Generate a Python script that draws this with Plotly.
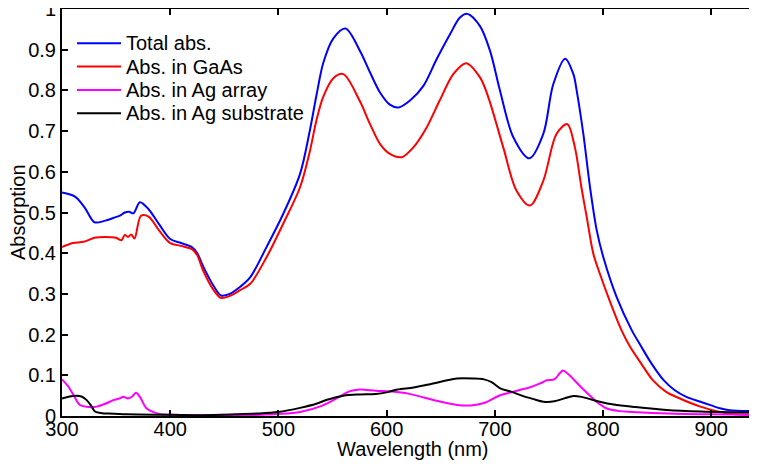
import plotly.graph_objects as go

# ---- data ----
wl_total = [300, 312, 321, 330, 340, 349, 354, 358, 362, 366, 372, 380, 390, 400, 410, 420, 425,
            430, 440, 447, 455, 465, 474, 489, 504.5, 520, 529, 535.4, 541.5, 550.8, 562, 575.4,
            584.7, 593.9, 603, 611, 621.6, 634, 646.3, 658.6, 667.8, 674.6, 686.3, 695.6, 704.8,
            717.1, 732, 744.8, 754, 765, 772.6, 775.7, 781.8, 788, 794.2, 800.3, 812.6, 826.5,
            835, 845, 856, 866, 877, 890, 900, 908, 917, 942]
abs_total = [0.549, 0.539, 0.512, 0.476, 0.480, 0.488, 0.493, 0.500, 0.502, 0.498, 0.525, 0.508,
             0.470, 0.435, 0.425, 0.415, 0.400, 0.370, 0.320, 0.296, 0.300, 0.318, 0.341, 0.415,
             0.497, 0.595, 0.701, 0.791, 0.868, 0.928, 0.952, 0.897, 0.844, 0.795, 0.765, 0.758,
             0.775, 0.811, 0.877, 0.938, 0.979, 0.988, 0.958, 0.897, 0.799, 0.685, 0.633, 0.693,
             0.815, 0.878, 0.840, 0.799, 0.693, 0.562, 0.456, 0.390, 0.292, 0.211, 0.172, 0.128,
             0.088, 0.064, 0.047, 0.035, 0.026, 0.019, 0.014, 0.012]

wl_gaas = [300, 310, 320, 330, 340, 350, 355, 358, 361, 364, 367, 373, 380, 390, 400, 410, 420,
           425, 430, 440, 447, 455, 465, 474, 489, 504.5, 520, 529, 535, 541.5, 550.8, 560, 575,
           584.7, 594, 603, 614, 624.7, 637, 649, 661.6, 673.4, 686.3, 694, 707.8, 720, 732.5,
           744.8, 757, 767, 774, 780, 785, 791, 797, 806, 817, 825, 835, 846, 858, 871, 890, 908,
           920, 942]
abs_gaas = [0.415, 0.425, 0.428, 0.438, 0.440, 0.438, 0.432, 0.445, 0.440, 0.446, 0.436, 0.492,
            0.490, 0.455, 0.425, 0.418, 0.410, 0.395, 0.360, 0.310, 0.290, 0.295, 0.310, 0.325,
            0.390, 0.473, 0.562, 0.650, 0.725, 0.785, 0.830, 0.840, 0.775, 0.717, 0.668, 0.644,
            0.636, 0.660, 0.709, 0.775, 0.840, 0.867, 0.832, 0.783, 0.660, 0.554, 0.517, 0.578,
            0.693, 0.717, 0.660, 0.562, 0.488, 0.399, 0.350, 0.284, 0.211, 0.170, 0.130, 0.088,
            0.060, 0.043, 0.023, 0.010, 0.005, 0.003]

wl_array = [300, 305, 310, 316.6, 325, 332, 340, 347.4, 353, 356.7, 361, 365, 368.4, 372, 378, 384,
            390, 400, 430, 470, 500, 520, 540, 555, 565, 575, 590, 605, 620, 635, 650, 665, 678,
            690, 705, 715, 723, 732, 741.8, 748, 755, 760, 763, 769, 780, 788, 794, 803, 815, 827,
            860, 900, 942]
abs_array = [0.090, 0.075, 0.055, 0.027, 0.022, 0.023, 0.030, 0.039, 0.043, 0.047, 0.043, 0.048,
             0.057, 0.047, 0.019, 0.010, 0.005, 0.003, 0.002, 0.002, 0.005, 0.010, 0.025, 0.045,
             0.060, 0.065, 0.062, 0.060, 0.055, 0.045, 0.035, 0.027, 0.026, 0.032, 0.051, 0.058,
             0.064, 0.070, 0.080, 0.088, 0.090, 0.105, 0.112, 0.100, 0.070, 0.050, 0.035, 0.019,
             0.012, 0.010, 0.006, 0.004, 0.003]

wl_sub = [300, 307, 313.5, 318, 322.8, 327, 330.5, 337, 343, 360, 400, 430, 460, 480, 500, 520,
          535, 545, 560, 575, 590, 600, 610, 625, 640, 655, 665, 680, 690, 697, 705, 715, 725, 735,
          745, 755, 765, 772.6, 780, 790, 797, 810, 830, 859, 890, 920, 942]
abs_sub = [0.043, 0.048, 0.050, 0.048, 0.039, 0.025, 0.011, 0.007, 0.006, 0.004, 0.003, 0.002,
           0.004, 0.006, 0.010, 0.020, 0.030, 0.040, 0.050, 0.053, 0.054, 0.058, 0.065, 0.070,
           0.078, 0.087, 0.092, 0.092, 0.090, 0.083, 0.068, 0.060, 0.050, 0.042, 0.035, 0.036,
           0.044, 0.049, 0.047, 0.040, 0.035, 0.028, 0.022, 0.015, 0.011, 0.009, 0.008]

series_names = ["Total abs.", "Abs. in GaAs", "Abs. in Ag array", "Abs. in Ag substrate"]
series_colors = ["#0000ff", "#ff0000", "#ff00ff", "#000000"]

x_ticks = [300, 400, 500, 600, 700, 800, 900]
y_ticks = [0, 0.1, 0.2, 0.3, 0.4, 0.5, 0.6, 0.7, 0.8, 0.9, 1]
y_tick_text = ["0", "0.1", "0.2", "0.3", "0.4", "0.5", "0.6", "0.7", "0.8", "0.9", "1"]

FONT = "Liberation Sans, Arial, Helvetica, sans-serif"
FS = 20

# The page body has an 8 px default margin, so the figure is drawn at (8, 8)
# inside the 757x466 window; size and position are compensated for that.
OFF = 8
W, H = 757 - OFF, 466 - OFF
L, R, T, B = 62 - OFF, 0, 9 - OFF, 466 - 416
PW, PH = W - L - R, H - T - B


def px_x(p):  # window pixel -> paper x
    return (p - OFF - L) / PW


def px_y(p):  # window pixel -> paper y
    return (H - B - (p - OFF)) / PH


fig = go.Figure()
for xs, ys, name, col in zip([wl_total, wl_gaas, wl_array, wl_sub],
                             [abs_total, abs_gaas, abs_array, abs_sub],
                             series_names, series_colors):
    fig.add_trace(go.Scatter(x=xs, y=ys, mode="lines", name=name, showlegend=False,
                             line=dict(color=col, width=2, shape="spline", smoothing=0.9)))

# legend drawn as line swatches + text (no box, like the reference)
shapes = []
annotations = []
for i, (name, col) in enumerate(zip(series_names, series_colors)):
    yy = px_y(43.3 + i * 23.3)
    shapes.append(dict(type="line", xref="paper", yref="paper", x0=px_x(77), x1=px_x(121),
                       y0=yy, y1=yy, line=dict(color=col, width=2)))
    annotations.append(dict(text=name, xref="paper", yref="paper", x=px_x(124), y=yy,
                            xanchor="left", yanchor="middle", showarrow=False,
                            font=dict(family=FONT, size=FS, color="black")))

annotations.append(dict(text="Wavelength (nm)", xref="paper", yref="paper", x=px_x(413),
                        y=px_y(449), xanchor="center", yanchor="middle", showarrow=False,
                        font=dict(family=FONT, size=FS, color="black")))
annotations.append(dict(text="Absorption", xref="paper", yref="paper", x=px_x(18),
                        y=px_y(212), xanchor="center", yanchor="middle", showarrow=False,
                        textangle=-90, font=dict(family=FONT, size=FS, color="black")))

fig.update_layout(
    width=W, height=H,
    margin=dict(l=L, r=R, t=T, b=B, autoexpand=False),
    paper_bgcolor="white", plot_bgcolor="white",
    font=dict(family=FONT, size=FS, color="black"),
    showlegend=False,
    shapes=shapes, annotations=annotations,
)
fig.update_xaxes(range=[300, 942.3], tickvals=x_ticks, ticks="inside", ticklen=6, tickwidth=1.5,
                 tickcolor="black", showline=True, linecolor="black", linewidth=2,
                 mirror="ticks", showgrid=False, zeroline=False, automargin=False,
                 ticklabelstandoff=-6, tickfont=dict(family=FONT, size=FS))
fig.update_yaxes(range=[0, 1], tickvals=y_ticks, ticktext=y_tick_text, ticks="inside", ticklen=6,
                 tickwidth=1.5, tickcolor="black", showline=True, linecolor="black", linewidth=2,
                 mirror=False, showgrid=False, zeroline=False, automargin=False,
                 ticklabeloverflow="allow", tickfont=dict(family=FONT, size=FS))

fig.write_html("out.html")
